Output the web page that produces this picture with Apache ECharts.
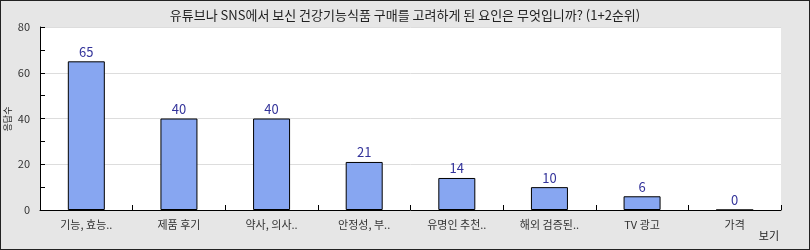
<!DOCTYPE html>
<html lang="ko">
<head>
<meta charset="UTF-8">
<title>chart</title>
<script src="https://cdn.jsdelivr.net/npm/echarts@6/dist/echarts.min.js"></script>
<style>
  html, body { margin: 0; padding: 0; }
  #main { width: 810px; height: 250px; box-sizing: border-box; border: 1px solid #222; background: #e6e6e6; }
</style>
</head>
<body>
<div id="main"></div>
<script type="text/javascript">
  // data
  const categories = ['기능, 효능..', '제품 후기', '약사, 의사..', '안정성, 부..', '유명인 추천..', '해외 검증된..', 'TV 광고', '가격'];
  const counts = [65, 40, 40, 21, 14, 10, 6, 0];
  const yTicks = [0, 20, 40, 60, 80];

  const font = '"Noto Sans CJK KR", "Noto Sans", sans-serif';
  let myChart = echarts.init(document.getElementById('main'));

  myChart.setOption({
    animation: false,
    textStyle: { fontFamily: font },
    title: {
      text: '유튜브나 SNS에서 보신 건강기능식품 구매를 고려하게 된 요인은 무엇입니까? (1+2순위)',
      left: 'center', top: 3,
      textStyle: { fontSize: 13, fontWeight: 'normal', color: '#222', fontFamily: font }
    },
    grid: {
      left: 39, right: 28, top: 26, bottom: 39,
      outerBoundsMode: 'none', containLabel: false,
      show: true, backgroundColor: '#fff', borderWidth: 0
    },
    xAxis: {
      type: 'category',
      data: categories,
      axisLine: { lineStyle: { color: '#000', width: 1 } },
      axisTick: { show: true, inside: true, length: 5, lineStyle: { color: '#000' } },
      axisLabel: { color: '#333', fontSize: 11, margin: 9 }
    },
    yAxis: {
      type: 'value',
      min: yTicks[0], max: yTicks[yTicks.length - 1], interval: 20,
      axisLine: { show: true, lineStyle: { color: '#000' } },
      axisTick: { show: true, inside: true, length: 5, lineStyle: { color: '#000' } },
      minorTick: { show: true, splitNumber: 2, length: 5, lineStyle: { color: '#000' } },
      axisLabel: { color: '#333', fontSize: 11, margin: 10 },
      splitLine: { lineStyle: { color: '#ddd' } }
    },
    graphic: [{
      // y axis name
      type: 'text', x: 7, y: 118, rotation: Math.PI / 2,
      style: { text: '응답수', fontSize: 9, fill: '#222', fontFamily: font, align: 'center', verticalAlign: 'middle' }
    }, {
      type: 'text', right: 30, bottom: 8,
      style: { text: '보기', fontSize: 11, fill: '#222', fontFamily: font }
    }],
    series: [{
      type: 'bar',
      data: counts,
      barWidth: 37,
      itemStyle: { color: '#87a6f1', borderColor: '#000', borderWidth: 1 },
      label: { show: true, position: 'top', distance: 3, color: '#33339a', fontSize: 13 }
    }]
  });
</script>
</body>
</html>
